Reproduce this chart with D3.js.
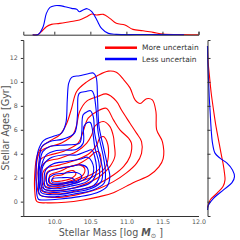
<!DOCTYPE html>
<html>
<head>
<meta charset="utf-8">
<script src="https://cdn.jsdelivr.net/npm/d3@7"></script>
<style>
  body { margin: 0; background: #fff; }
  svg { display: block; font-family: "DejaVu Sans", sans-serif; }
</style>
</head>
<body>
<div id="chart"></div>
<script>
// tick values
const massTicks = [10.0, 10.5, 11.0, 11.5, 12.0];
const ageTicks = [0, 2, 4, 6, 8, 10, 12];

const seriesNames = ["More uncertain", "Less uncertain"];
const seriesColors = ["#ff0000", "#0000ff"];

// KDE contour rings, [log mass, age Gyr], outer to inner
const redContours = [
  [[9.76,0.0],[9.73,0.8],[9.73,2.4],[9.76,3.8],[9.83,4.6],[9.95,5.1],[10.08,5.6],[10.17,6.5],[10.24,7.8],[10.31,9.2],[10.45,10.0],[10.59,10.5],[10.75,10.9],[10.86,10.8],[10.96,10.2],[11.05,9.5],[11.12,8.5],[11.19,8.2],[11.28,8.6],[11.36,8.5],[11.41,7.5],[11.42,6.0],[11.50,5.0],[11.51,3.6],[11.45,2.9],[11.32,2.2],[11.10,1.6],[10.82,0.75],[10.63,0.42],[10.40,0.14],[10.15,-0.05],[9.90,-0.1]],
  [[9.80,0.56],[9.76,1.3],[9.75,2.9],[9.78,3.9],[9.83,4.3],[9.94,4.6],[10.10,4.9],[10.26,5.6],[10.31,6.4],[10.35,7.5],[10.45,8.4],[10.61,8.8],[10.72,9.0],[10.86,8.4],[10.93,7.67],[11.05,6.55],[11.14,5.72],[11.21,5.02],[11.21,4.04],[11.14,3.2],[11.00,2.4],[10.82,1.67],[10.63,1.12],[10.40,0.7],[10.17,0.42],[9.94,0.36]],
  [[9.82,0.95],[9.78,1.8],[9.78,2.93],[9.82,3.6],[9.94,3.9],[10.12,4.18],[10.33,4.88],[10.40,5.86],[10.47,6.97],[10.59,7.53],[10.72,7.8],[10.82,6.83],[10.91,6.0],[11.03,5.3],[11.07,4.88],[11.05,3.77],[10.96,2.93],[10.82,2.23],[10.63,1.55],[10.40,1.05],[10.17,0.72],[9.94,0.68]],
  [[9.83,1.2],[9.81,2.09],[9.82,2.93],[9.89,3.35],[10.08,3.63],[10.31,4.18],[10.45,4.88],[10.52,5.58],[10.56,6.28],[10.68,6.69],[10.77,6.28],[10.82,5.44],[10.83,4.88],[10.84,3.77],[10.77,2.93],[10.63,2.1],[10.40,1.4],[10.17,1.0],[9.94,0.9]],
  [[9.86,1.35],[9.84,1.8],[9.84,2.4],[9.89,2.8],[10.08,3.07],[10.31,3.49],[10.49,4.04],[10.59,4.74],[10.63,5.3],[10.68,5.44],[10.73,5.02],[10.75,3.77],[10.70,2.79],[10.54,2.1],[10.31,1.6],[10.08,1.2],[9.93,1.15]],
  [[9.90,1.5],[9.88,1.95],[9.91,2.51],[10.08,2.79],[10.31,3.07],[10.47,3.63],[10.56,4.1],[10.61,4.18],[10.65,3.49],[10.63,2.79],[10.49,2.2],[10.26,1.7],[10.05,1.35],[9.95,1.33]],
  [[9.94,1.6],[9.94,2.23],[10.07,2.51],[10.22,2.93],[10.35,3.07],[10.42,2.79],[10.40,2.23],[10.26,1.8],[10.08,1.5],[9.98,1.48]],
  [[9.98,1.75],[9.99,2.09],[10.10,2.23],[10.19,2.51],[10.26,2.59],[10.30,2.32],[10.24,1.95],[10.10,1.72],[10.03,1.68]]
];

const blueContours = [
  [[9.78,0.2],[9.75,1.26],[9.75,3.2],[9.78,4.32],[9.85,5.1],[9.98,5.44],[10.10,5.72],[10.16,6.55],[10.18,8.51],[10.20,9.9],[10.24,10.38],[10.35,10.52],[10.47,10.68],[10.54,10.74],[10.58,10.4],[10.60,8.51],[10.62,6.28],[10.68,4.6],[10.73,3.21],[10.77,2.09],[10.73,1.26],[10.59,0.75],[10.35,0.42],[10.08,0.22],[9.87,0.14]],
  [[9.80,0.56],[9.78,1.81],[9.79,3.49],[9.83,4.6],[9.94,5.02],[10.12,5.22],[10.28,5.72],[10.32,7.11],[10.33,8.79],[10.35,9.07],[10.44,9.2],[10.52,9.26],[10.55,8.93],[10.58,7.67],[10.61,5.72],[10.68,3.77],[10.71,2.37],[10.69,1.53],[10.54,0.98],[10.26,0.62],[10.08,0.45],[9.94,0.4]],
  [[9.82,0.75],[9.79,1.81],[9.80,3.2],[9.84,4.18],[9.94,4.6],[10.17,4.74],[10.35,4.88],[10.38,5.72],[10.40,7.25],[10.46,7.53],[10.50,7.59],[10.54,7.11],[10.56,5.72],[10.62,4.04],[10.67,2.65],[10.65,1.67],[10.52,1.12],[10.26,0.78],[10.08,0.6],[9.98,0.58]],
  [[9.84,0.92],[9.81,1.67],[9.82,2.93],[9.89,3.9],[10.03,4.27],[10.31,4.38],[10.40,4.88],[10.41,6.28],[10.46,6.61],[10.50,6.61],[10.53,6.0],[10.56,4.6],[10.62,3.21],[10.62,1.95],[10.54,1.31],[10.31,0.98],[10.08,0.8],[9.95,0.78]],
  [[9.86,1.05],[9.83,1.81],[9.84,2.93],[9.94,3.63],[10.12,3.9],[10.31,3.9],[10.44,4.18],[10.52,4.32],[10.56,3.77],[10.58,2.37],[10.49,1.53],[10.26,1.12],[10.08,0.95],[9.95,0.95]],
  [[9.88,1.2],[9.86,1.81],[9.88,2.65],[9.98,3.15],[10.17,3.35],[10.35,3.54],[10.46,3.71],[10.52,3.35],[10.54,2.37],[10.45,1.67],[10.22,1.28],[10.08,1.1],[9.96,1.1]],
  [[9.91,1.35],[9.89,1.81],[9.91,2.43],[10.03,2.71],[10.22,2.93],[10.38,3.07],[10.46,2.79],[10.46,2.09],[10.35,1.65],[10.14,1.35],[10.0,1.28]],
  [[9.94,1.5],[9.92,1.87],[9.98,2.23],[10.14,2.37],[10.31,2.43],[10.38,2.09],[10.33,1.75],[10.14,1.5],[10.01,1.43]],
  [[9.97,1.62],[9.97,1.9],[10.10,2.0],[10.24,1.98],[10.28,1.78],[10.17,1.6],[10.05,1.55]]
];

// marginal densities: [log mass, density] on top, [age, density] at the side
const topRed = [[9.70,0],[9.775,0.01],[9.82,0.18],[9.89,0.48],[9.96,0.62],[10.076,0.68],[10.215,0.78],[10.35,0.88],[10.45,1.08],[10.52,1.24],[10.586,1.18],[10.68,1.22],[10.77,0.98],[10.86,0.68],[10.98,0.58],[11.09,0.32],[11.23,0.24],[11.37,0.14],[11.51,0.04],[11.7,0.01],[12.0,0]];
const topBlue = [[9.70,0],[9.775,0.01],[9.845,0.48],[9.89,1.28],[9.94,1.64],[10.007,1.74],[10.076,1.74],[10.146,1.68],[10.24,1.58],[10.31,1.52],[10.35,1.38],[10.40,1.48],[10.456,1.56],[10.52,1.38],[10.59,0.88],[10.655,0.38],[10.75,0.08],[10.86,0.02],[11.3,0.01],[11.8,0]];
const sideRed = [[-0.5,0],[0.14,0.054],[0.7,0.19],[1.26,0.31],[1.82,0.35],[2.37,0.34],[3.21,0.31],[4.05,0.27],[5.16,0.22],[6.28,0.17],[7.67,0.12],[9.07,0.074],[10.46,0.04],[11.6,0.014],[13,0]];
const sideBlue = [[-0.7,0],[-0.28,0.02],[0.28,0.12],[0.98,0.32],[1.59,0.49],[2.09,0.54],[2.65,0.50],[3.21,0.39],[3.63,0.25],[4.05,0.15],[4.89,0.10],[6.0,0.074],[7.4,0.054],[8.79,0.034],[10.2,0.02],[11.6,0.006],[13,0]];

const W = 240, H = 240;
const main = { left: 23.3, right: 198.5, top: 40, bottom: 216 };

const svg = d3.select('#chart')
  .append('svg')
  .attr('width', W)
  .attr('height', H);

const x = d3.scaleLinear().domain([9.57, 12.0]).range([main.left, main.right]);
const y = d3.scaleLinear().domain([-1.2, 13.5]).range([main.bottom, main.top]);
const yTop = d3.scaleLinear().domain([0, 2.08]).range([34.7, 0]);
const xSide = d3.scaleLinear().domain([0, 0.65]).range([207.5, 240]);

// contours
const ring = d3.line()
  .x(d => x(d[0]))
  .y(d => y(d[1]))
  .curve(d3.curveCatmullRomClosed.alpha(0.5));

const cg = svg.append('g');
[[redContours, seriesColors[0]], [blueContours, seriesColors[1]]].forEach(([rings, color]) => {
  cg.append('g')
    .selectAll('path')
    .data(rings)
    .enter().append('path')
    .attr('d', ring)
    .attr('fill', 'none')
    .attr('stroke', color)
    .attr('stroke-width', 1.1);
});

// main axes
const axisColor = '#333';
const labelColor = '#555';

const gx = svg.append('g')
  .attr('transform', `translate(0,${main.bottom})`)
  .call(d3.axisBottom(x).tickValues(massTicks).tickFormat(d3.format('.1f')).tickSize(0).tickPadding(4));
const gy = svg.append('g')
  .attr('transform', `translate(${main.left},0)`)
  .call(d3.axisLeft(y).tickValues(ageTicks).tickSize(2.5).tickPadding(3));
[gx, gy].forEach(g => {
  g.selectAll('.domain').attr('stroke', axisColor).attr('stroke-width', 1);
  g.selectAll('.tick line').attr('stroke', axisColor);
  g.selectAll('.tick text').attr('fill', labelColor).attr('font-size', 6.3).attr('font-family', 'DejaVu Sans');
});

// top marginal
const topLine = d3.line()
  .x(d => x(d[0]))
  .y(d => yTop(d[1]))
  .curve(d3.curveCatmullRom);
[[topRed, seriesColors[0]], [topBlue, seriesColors[1]]].forEach(([data, color]) => {
  svg.append('path')
    .attr('d', topLine(data))
    .attr('fill', 'none')
    .attr('stroke', color)
    .attr('stroke-width', 1.1);
});
const gTop = svg.append('g')
  .attr('transform', `translate(0,${yTop(0)})`)
  .call(d3.axisTop(x).tickValues(massTicks).tickSize(3).tickFormat(''));
gTop.selectAll('.domain').attr('stroke', axisColor);
gTop.selectAll('.tick line').attr('stroke', axisColor);

// right marginal
const sideLine = d3.line()
  .x(d => xSide(d[1]))
  .y(d => y(d[0]))
  .curve(d3.curveCatmullRom);
[[sideRed, seriesColors[0]], [sideBlue, seriesColors[1]]].forEach(([data, color]) => {
  svg.append('path')
    .attr('d', sideLine(data))
    .attr('fill', 'none')
    .attr('stroke', color)
    .attr('stroke-width', 1.1);
});
const gSide = svg.append('g')
  .attr('transform', `translate(${xSide(0)},0)`)
  .call(d3.axisRight(y).tickValues(ageTicks).tickSize(3).tickFormat(''));
gSide.selectAll('.domain').attr('stroke', axisColor);
gSide.selectAll('.tick line').attr('stroke', axisColor);

// axis labels
svg.append('text')
  .attr('x', (main.left + main.right) / 2)
  .attr('y', 236)
  .attr('text-anchor', 'middle')
  .attr('font-size', 9.6)
  .attr('fill', labelColor)
  .call(t => {
    t.append('tspan').text('Stellar Mass [log ');
    t.append('tspan').attr('font-weight', 'bold').attr('font-style', 'italic').text('M');
    t.append('tspan').attr('font-size', 6.5).attr('dy', 2).text('\u2299');
    t.append('tspan').attr('dy', -2).text(' ]');
  });

svg.append('text')
  .attr('transform', `translate(9,${(main.top + main.bottom) / 2}) rotate(-90)`)
  .attr('text-anchor', 'middle')
  .attr('font-size', 9.6)
  .attr('fill', labelColor)
  .text('Stellar Ages [Gyr]');

// legend
const legend = svg.append('g');
seriesNames.forEach((name, i) => {
  const ly = 47.7 + i * 11.3;
  legend.append('line')
    .attr('x1', 105).attr('x2', 137)
    .attr('y1', ly).attr('y2', ly)
    .attr('stroke', seriesColors[i])
    .attr('stroke-width', 2.5);
  legend.append('text')
    .attr('x', 142)
    .attr('y', ly + 2.7)
    .attr('font-size', 7.5)
    .attr('fill', '#333')
    .text(name);
});
</script>
</body>
</html>
